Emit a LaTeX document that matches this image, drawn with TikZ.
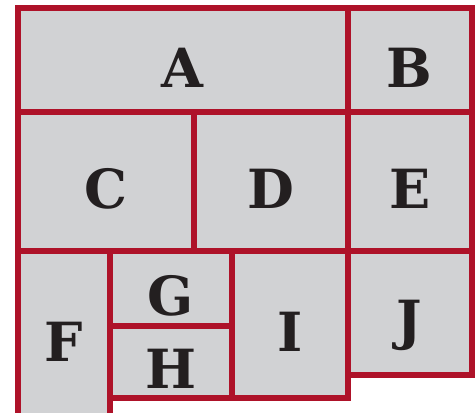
\documentclass[tikz,border=0pt]{standalone}
\usepackage{fontspec}
\setmainfont{DejaVu Serif}
\usepackage{xcolor}
\definecolor{cellgray}{RGB}{209,210,212}
\definecolor{framered}{RGB}{174,18,41}
\definecolor{inkblack}{RGB}{35,31,32}

\begin{document}
\begin{tikzpicture}[x=0.5pt,y=-0.5pt,
    cellfill/.style={fill=cellgray},
    cellframe/.style={draw=framered,line width=3pt},
    lbl/.style={font=\fontsize{27}{27}\selectfont\bfseries,text=inkblack,inner sep=0pt,anchor=base}]
  \useasboundingbox (0,0) rectangle (476,412);
  \clip (0,0) rectangle (476,412);

  \def\cells{A/18/8/347.6/112, B/347.6/8/471.6/112,
    C/18/112/193.5/251, D/193.5/112/347.6/251, E/347.6/112/471.6/251,
    F/18/251/110/417, G/110/251/231.7/325.7, H/110/325.7/231.7/397.7,
    I/231.7/251/347.6/397.7, J/347.6/251/471.6/374.7}

  \foreach \name/\xa/\ya/\xb/\yb in \cells {
    \fill[cellfill] (\xa,\ya) rectangle (\xb,\yb);
  }
  \foreach \name/\xa/\ya/\xb/\yb in \cells {
    \draw[cellframe] (\xa,\ya) rectangle (\xb,\yb);
    \node[lbl] (\name) at ({(\xa+\xb)/2},{(\ya+\yb)/2+27}) {\name};
  }
\end{tikzpicture}
\end{document}
